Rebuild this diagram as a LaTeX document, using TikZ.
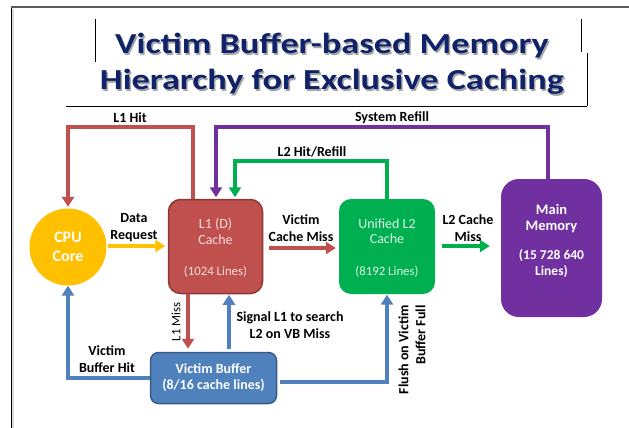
\documentclass[tikz,border=0pt]{standalone}
\usepackage{fontspec}
\setmainfont{Carlito}
\usetikzlibrary{arrows.meta}
\definecolor{cred}{HTML}{C0504D}
\definecolor{credd}{HTML}{8C3836}
\definecolor{cgreen}{HTML}{00B050}
\definecolor{cpurple}{HTML}{7030A0}
\definecolor{cblue}{HTML}{4F81BD}
\definecolor{cblued}{HTML}{385D8A}
\definecolor{cyellow}{HTML}{FFC000}
\definecolor{navy}{HTML}{10236A}
\definecolor{ltred}{HTML}{F4DEDD}
\definecolor{ltgreen}{HTML}{DDF5E6}
\begin{document}
\begin{tikzpicture}[x=1pt,y=-1pt,
  conn/.style={line width=4pt,-{Triangle[width=12pt,length=10pt]},shorten >=1.5pt},
  lbl/.style={font=\fontsize{14}{17}\selectfont\bfseries,align=center,inner sep=0pt},
  box/.style={rectangle,rounded corners=12pt,inner sep=0pt},
  btext/.style={text=white,align=center,inner sep=0pt},
  ttl/.style={font=\fontsize{29}{36}\selectfont\bfseries,align=center,xscale=1.25,transform shape},
  ]
\useasboundingbox (0,0) rectangle (629,428);
% frame
\draw[line width=2pt,black!65] (11,7) -- (629,7);
\draw[line width=2.5pt,black!15] (12.5,9) -- (12.5,428);
\draw[line width=1pt,black] (11,8) -- (11,428);
% title decorations
\draw[line width=0.8pt] (95,19) -- (95,62);
\draw[line width=0.8pt] (581,19) -- (581,52);
\draw[line width=0.8pt] (587,53) -- (587,106);
\draw[line width=0.8pt] (66,106) -- (587,106);
% title
\node[ttl,text=black!35] (titleshadow) at (333.5,65.5) {Victim Buffer-based Memory\\Hierarchy for Exclusive Caching};
\node[ttl,text=navy] (title) at (332,64) {Victim Buffer-based Memory\\Hierarchy for Exclusive Caching};
% nodes
\node[circle,fill=cyellow,minimum size=77pt,inner sep=0pt,text=white,font=\fontsize{16}{19}\selectfont\bfseries,align=center] (cpu) at (68,247) {CPU\\Core};
\node[box,fill=cred,draw=credd,line width=1.5pt,minimum width=94pt,minimum height=94pt] (l1) at (215.5,246.5) {};
\node[btext,text=ltred,font=\fontsize{14}{15.5}\selectfont] (l1lbl) at (215.5,248) {L1 (D)\\Cache\\[16pt]\fontsize{12.8}{13}\selectfont(1024 Lines)};
\node[box,fill=cgreen,minimum width=96pt,minimum height=95pt] (l2) at (387,246.5) {};
\node[btext,text=ltgreen,font=\fontsize{14}{15.5}\selectfont] (l2lbl) at (387,248) {Unified L2\\Cache\\[16pt]\fontsize{12.8}{13}\selectfont(8192 Lines)};
\node[box,rounded corners=18pt,fill=cpurple,minimum width=101pt,minimum height=138pt] (mem) at (551.5,248) {};
\node[btext,font=\fontsize{14.5}{16}\selectfont\bfseries] (memlbl) at (551.5,241) {Main\\Memory\\[13pt]\fontsize{13.5}{15}\selectfont(15 728 640\\\fontsize{13.5}{15}\selectfont Lines)};
\node[box,rounded corners=8pt,fill=cblue,draw=cblued,line width=1.5pt,minimum width=126pt,minimum height=51pt,text=white,font=\fontsize{14}{16}\selectfont\bfseries,align=center] (vb) at (213.5,378) {Victim Buffer\\(8/16 cache lines)};
% waypoints
\coordinate (hitA) at (193,127);
\coordinate (sysA) at (216,127);
\coordinate (sysB) at (548,127);
\coordinate (l2hA) at (235,161);
\coordinate (l2hB) at (387,161);
\coordinate (missX) at (188,0);
\coordinate (sigX) at (229,0);
\coordinate (vbhA) at (68,378);
\coordinate (flA) at (387,382);
% connectors
\draw[conn,cred] (l1.north -| hitA) -- (hitA) -| (cpu.north);
\draw[conn,cpurple] (mem.north -| sysB) -- (sysB) -- (sysA) -- (l1.north -| sysA);
\draw[conn,cgreen] (l2.north -| l2hB) -- (l2hB) -- (l2hA) -- (l1.north -| l2hA);
\draw[conn,cyellow,shorten <=1pt,shorten >=2.5pt] (cpu.east |- 0,246) -- (l1.west |- 0,246);
\draw[conn,cred,shorten <=6pt,shorten >=3pt] (l1.east |- 0,248) -- (l2.west |- 0,248);
\draw[conn,cgreen,shorten <=7pt,shorten >=11pt] (l2.east |- 0,246) -- (mem.west |- 0,246);
\draw[conn,cred,shorten >=3pt] (l1.south -| missX) -- (vb.north -| missX);
\draw[conn,cblue,shorten <=3pt,shorten >=0.5pt] (vb.north -| sigX) -- (l1.south -| sigX);
\draw[conn,cblue,shorten >=0pt] (vb.west |- vbhA) -- (vbhA) -- (cpu.south);
\draw[conn,cblue,shorten <=3pt,shorten >=0.5pt] (vb.east |- flA) -- (flA) -- (l2.south -| flA);
% labels
\node[lbl] (lhit) at (130,118) {L1 Hit};
\node[lbl] (lsys) at (392,118) {System Refill};
\node[lbl] (ll2h) at (312,152) {L2 Hit/Refill};
\node[lbl] (ldr) at (134,228) {Data\\Request};
\node[lbl] (lvcm) at (301,228) {Victim\\Cache Miss};
\node[lbl] (ll2m) at (468,228) {L2 Cache\\Miss};
\node[lbl,font=\fontsize{12.8}{14}\selectfont,rotate=90] (lmiss) at (176,322) {L1 Miss};
\node[lbl] (lsig) at (290,325) {Signal L1 to search\\L2 on VB Miss};
\node[lbl] (lvbh) at (107,359) {Victim\\Buffer Hit};
\node[lbl,rotate=90,align=right,anchor=east] (lfl) at (412,305) {Flush on Victim\\Buffer Full};
\end{tikzpicture}
\end{document}
